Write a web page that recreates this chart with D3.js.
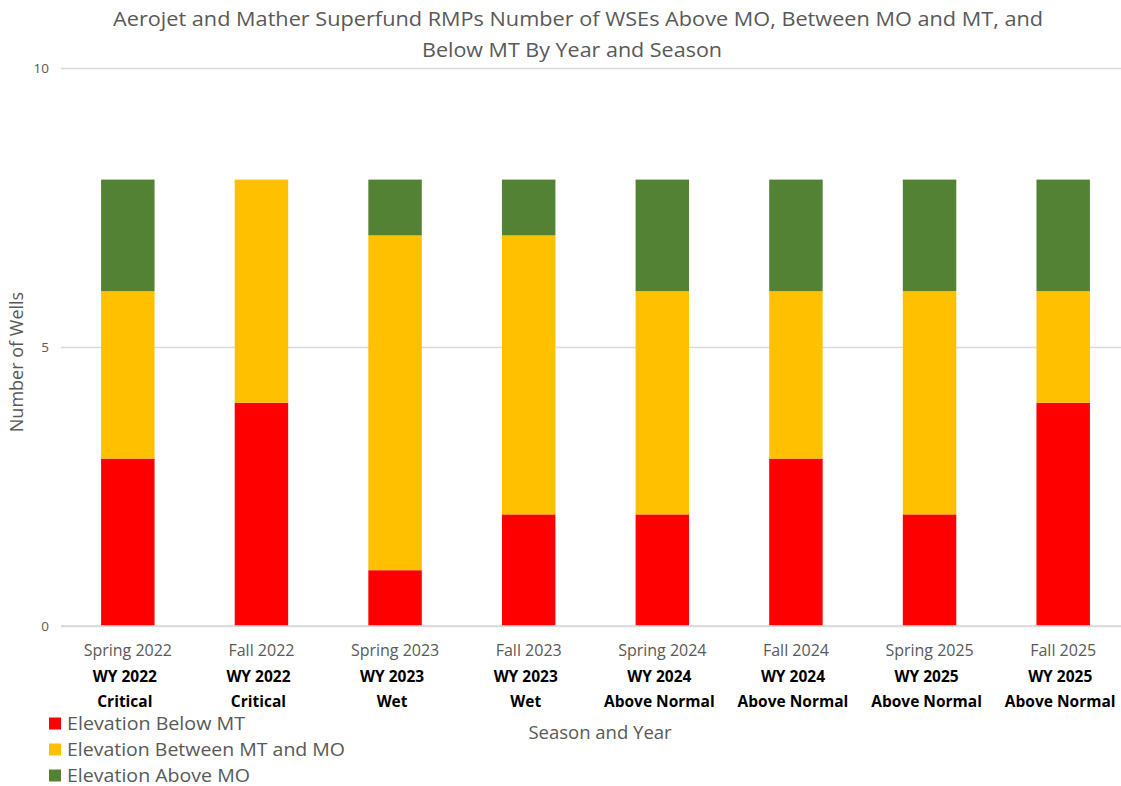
<!DOCTYPE html>
<html>
<head>
<meta charset="utf-8">
<script src="https://cdn.jsdelivr.net/npm/d3@7"></script>
<style>
  html, body { margin: 0; padding: 0; background: #fff; }
  svg { display: block; font-family: "Open Sans", "Noto Sans", sans-serif; }
</style>
</head>
<body>
<svg id="chart" width="1121" height="786"></svg>
<script>
// Sampling events (season + year), with water-year type shown beneath
const seasons = ["Spring 2022", "Fall 2022", "Spring 2023", "Fall 2023",
                 "Spring 2024", "Fall 2024", "Spring 2025", "Fall 2025"];
const waterYears = ["WY 2022", "WY 2022", "WY 2023", "WY 2023",
                    "WY 2024", "WY 2024", "WY 2025", "WY 2025"];
const yearTypes = ["Critical", "Critical", "Wet", "Wet",
                   "Above Normal", "Above Normal", "Above Normal", "Above Normal"];

// Number of wells in each elevation class
const belowMT = [3, 4, 1, 2, 2, 3, 2, 4];
const betweenMTandMO = [3, 4, 6, 5, 4, 3, 4, 2];
const aboveMO = [2, 0, 1, 1, 2, 2, 2, 2];

const seriesNames = ["Elevation Below MT", "Elevation Between MT and MO", "Elevation Above MO"];
const seriesColors = ["#ff0000", "#ffc000", "#548235"];
const yTicks = [0, 5, 10];

const rows = seasons.map((s, i) => ({
  season: s,
  [seriesNames[0]]: belowMT[i],
  [seriesNames[1]]: betweenMTandMO[i],
  [seriesNames[2]]: aboveMO[i]
}));
const stacked = d3.stack().keys(seriesNames)(rows);

const svg = d3.select("#chart");

const x = d3.scaleBand().domain(seasons).range([61, 1130]).paddingInner(0.6).paddingOuter(0.3);
const y = d3.scaleLinear().domain([0, 10]).range([626, 68]);

// Title
const title = svg.append("text")
  .attr("x", 578).attr("text-anchor", "middle")
  .attr("fill", "#595959").attr("font-size", 20);
title.append("tspan").attr("x", 578).attr("y", 26)
  .attr("textLength", 930).attr("lengthAdjust", "spacingAndGlyphs")
  .text("Aerojet and Mather Superfund RMPs Number of WSEs Above MO, Between MO and MT, and");
title.append("tspan").attr("x", 572).attr("y", 57)
  .attr("textLength", 300).attr("lengthAdjust", "spacingAndGlyphs")
  .text("Below MT By Year and Season");

// Horizontal gridlines + y tick labels
const yAxis = d3.axisLeft(y).tickValues(yTicks).tickSize(-(1130 - 61)).tickPadding(12);
const yg = svg.append("g").attr("transform", "translate(61,0)").call(yAxis);
yg.select(".domain").remove();
yg.selectAll(".tick line").attr("stroke", "#d9d9d9").attr("stroke-width", 1.3);
yg.selectAll(".tick text").attr("fill", "#595959").attr("font-size", 13.5)
  .attr("font-family", "Open Sans, sans-serif");

// Stacked bars
svg.append("g").selectAll("g")
  .data(stacked).join("g")
  .attr("fill", (d, i) => seriesColors[i])
  .selectAll("rect")
  .data(d => d).join("rect")
  .attr("x", d => x(d.data.season))
  .attr("width", x.bandwidth())
  .attr("y", d => y(d[1]))
  .attr("height", d => y(d[0]) - y(d[1]));

// Baseline
svg.append("line").attr("x1", 61).attr("x2", 1130)
  .attr("y1", y(0)).attr("y2", y(0))
  .attr("stroke", "#d9d9d9").attr("stroke-width", 1.3);

// Category labels (season, water year, year type)
const xAxis = d3.axisBottom(x).tickSize(0).tickPadding(0).tickFormat(() => "");
const xg = svg.append("g").attr("transform", `translate(0,${y(0)})`).call(xAxis);
xg.select(".domain").remove();
xg.selectAll(".tick").each(function(d, i) {
  const t = d3.select(this);
  t.append("text").attr("y", 30).attr("text-anchor", "middle")
    .attr("fill", "#595959").attr("font-size", 16)
    .attr("font-family", "Open Sans, sans-serif")
    .text(seasons[i]);
  t.append("text").attr("y", 56).attr("x", -3).attr("text-anchor", "middle")
    .attr("fill", "#000").attr("font-size", 15.5).attr("font-weight", "bold")
    .attr("font-family", "Open Sans, sans-serif")
    .text(waterYears[i]);
  t.append("text").attr("y", 81).attr("x", -3).attr("text-anchor", "middle")
    .attr("fill", "#000").attr("font-size", 15.5).attr("font-weight", "bold")
    .attr("font-family", "Open Sans, sans-serif")
    .text(yearTypes[i]);
});

// Axis titles
svg.append("text")
  .attr("transform", "translate(23,362) rotate(-90)")
  .attr("text-anchor", "middle").attr("fill", "#595959").attr("font-size", 18)
  .text("Number of Wells");
svg.append("text")
  .attr("x", 600).attr("y", 739).attr("text-anchor", "middle")
  .attr("fill", "#595959").attr("font-size", 18.5)
  .text("Season and Year");

// Legend
const legendWidths = [178, 278, 183];
const legend = svg.append("g").selectAll("g")
  .data(seriesNames).join("g")
  .attr("transform", (d, i) => `translate(49,${723.5 + i * 26})`);
legend.append("rect").attr("x", 0).attr("y", -6).attr("width", 12).attr("height", 12)
  .attr("fill", (d, i) => seriesColors[i]);
legend.append("text").attr("x", 18).attr("y", 6)
  .attr("fill", "#595959").attr("font-size", 18)
  .attr("textLength", (d, i) => legendWidths[i]).attr("lengthAdjust", "spacingAndGlyphs")
  .text(d => d);
</script>
</body>
</html>
